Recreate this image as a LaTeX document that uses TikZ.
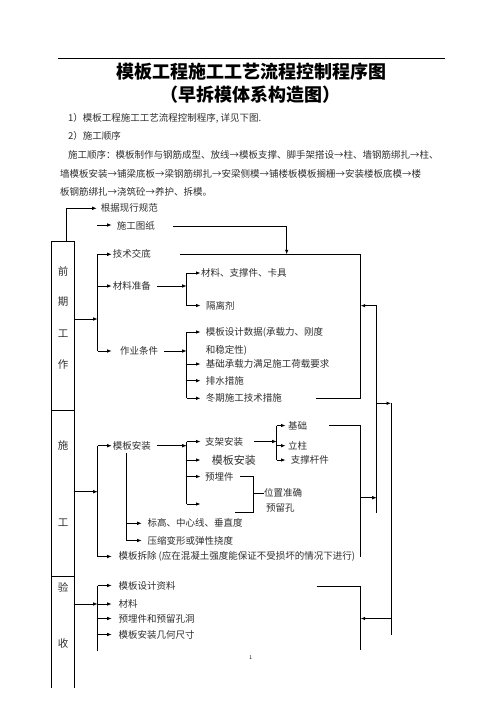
\documentclass[tikz,border=0pt]{standalone}
\usepackage{fontspec}
\setmainfont{Noto Sans CJK SC}
\usepackage{tikz}
\usetikzlibrary{arrows.meta,calc,positioning}
\XeTeXlinebreaklocale "zh"
\XeTeXlinebreakskip=0pt plus 2pt
\definecolor{ink}{HTML}{2E2E2E}

\begin{document}
\begin{tikzpicture}[x=1pt,y=-1pt,
    lbl/.style={anchor=west, inner sep=0pt, text=ink, font=\fontsize{9.5}{11}\selectfont},
    side/.style={inner sep=0pt, text=ink, font=\fontsize{10.5}{12}\selectfont},
    para/.style={anchor=west, inner sep=0pt, text=ink, font=\fontsize{9.5}{11}\selectfont},
    headline/.style={inner sep=0pt, font=\fontsize{18}{20}\selectfont\bfseries},
    arrow/.style={-{Latex[length=4.5pt,width=3.6pt]}, line width=0.8pt},
    wire/.style={line width=0.8pt}
  ]
  \useasboundingbox (0,0) rectangle (496,702);
  \draw[line width=0.8pt] (58,58) -- (445,58);
  \node[headline] (title) at (251,72) {模板工程施工工艺流程控制程序图};
  \node[headline] (subtitle) at (250,95) {（早拆模体系构造图）};
  \node[para] (intro1) at (68,118) {1）模板工程施工工艺流程控制程序,\ 详见下图.};
  \node[para] (intro2) at (68,136) {2）施工顺序};
  \node[para, text width=377pt, align=justify] (order1) at (68,155) {\noindent\parfillskip=0pt 施工顺序：模板制作与钢筋成型、放线→模板支撑、脚手架搭设→柱、墙钢筋绑扎→柱、};
  \node[para, text width=385pt, align=justify] (order2) at (60,173.5) {\noindent\parfillskip=0pt 墙模板安装→铺梁底板→梁钢筋绑扎→安梁侧模→铺楼板模板搁栅→安装楼板底模→楼};
  \node[para] (order3) at (60,192) {板钢筋绑扎→浇筑砼→养护、拆模。};

  % columns of the brackets
  \coordinate (b1) at (97.7,0);
  \coordinate (b4) at (126.7,0);
  \coordinate (b2) at (186.7,0);
  \coordinate (b3) at (276.7,0);
  \coordinate (k1) at (286.7,0);
  \coordinate (r1) at (360.7,0);
  \coordinate (r2) at (376.7,0);
  \coordinate (t1) at (111.7,0);
  \coordinate (t3) at (141.7,0);
  \coordinate (t2) at (200.5,0);
  \coordinate (t4) at (285.5,0);

  % stage column
  \draw[wire] (51.7,688) |- (74.3,241) -- (74.3,688);
  \draw[wire] (51.7,410.3) -- (74.3,410.3);
  \draw[wire] (51.7,576.7) -- (74.3,576.7);
  \node[side] (q1) at (63,271.7) {前};
  \node[side] (q2) at (63,301.7) {期};
  \node[side] (q3) at (63,333.3) {工};
  \node[side] (q4) at (63,365) {作};
  \node[side] (s1) at (63,445) {施};
  \node[side] (s2) at (63,523) {工};
  \node[side] (y1) at (63,587.5) {验};
  \node[side] (y2) at (63,643.3) {收};

  \node[lbl] (gjxg) at (100.7,208.3) {根据现行规范};
  \node[lbl] (sgtz) at (116.7,226) {施工图纸};
  \node[lbl] (jsjd) at (112.7,254.3) {技术交底};
  \node[lbl] (clzb) at (112.7,286) {材料准备};
  \node[lbl] (zytj) at (120,351) {作业条件};
  \node[lbl] (clzc) at (201,273) {材料、支撑件、卡具};
  \node[lbl] (glj) at (206,305.5) {隔离剂};
  \node[lbl] (mbsj) at (205.7,332) {模板设计数据(承载力、刚度};
  \node[lbl] (wdx) at (205.7,350) {和稳定性)};
  \node[lbl] (jccz) at (205.7,364) {基础承载力满足施工荷载要求};
  \node[lbl] (psc) at (205.7,380.7) {排水措施};
  \node[lbl] (dqsg) at (205.7,398.3) {冬期施工技术措施};

  \node[lbl] (mbaz) at (112.7,445.7) {模板安装};
  \node[lbl] (zjaz) at (205,441.5) {支架安装};
  \node[lbl, font=\fontsize{11}{12}\selectfont] (mbaz2) at (211.7,460) {模板安装};
  \node[lbl] (ymj) at (205,476.5) {预埋件};
  \coordinate (e1) at (200.5,504);
  \node[lbl] (jc) at (288,425.5) {基础};
  \node[lbl] (lz) at (288,445.7) {立柱};
  \node[lbl] (zcgj) at (290.7,460) {支撑杆件};
  \node[lbl] (wzzq) at (264,493.3) {位置准确};
  \node[lbl] (ylk) at (266,508) {预留孔};
  \node[lbl] (bg) at (147.3,523.3) {标高、中心线、垂直度};
  \node[lbl] (ysbx) at (147.3,540.5) {压缩变形或弹性挠度};
  \node[lbl] (mbcc) at (118.3,556.5) {模板拆除 (应在混凝土强度能保证不受损坏的情况下进行)};

  \node[lbl] (mbzl) at (118.3,585.5) {模板设计资料};
  \node[lbl] (cl) at (118.3,604) {材料};
  \node[lbl] (ymjk) at (118.3,618.5) {预埋件和预留孔洞};
  \node[lbl] (jhcc) at (118.3,634.5) {模板安装几何尺寸};
  \node[inner sep=0pt, font=\fontsize{5}{6}\selectfont] (pg) at (250.7,657.3) {1};

  % 前期工作
  \coordinate (btop) at (66.7,241);
  \draw[arrow] (btop) |- ([xshift=-4pt]gjxg.west);
  \draw[arrow] ([xshift=-19.4pt,yshift=1pt]sgtz.west) -- ([xshift=-5pt,yshift=1pt]sgtz.west);
  \draw[arrow] ([xshift=18pt]sgtz.east) -| (jsjd.west -| k1);
  \coordinate (f1) at (74.3,319);
  \draw[arrow] (f1) -- (f1 -| b1);
  \draw[wire] (jsjd.west -| b1) -- (zytj.west -| b1);
  \foreach \n in {jsjd,clzb,zytj}
    \draw[arrow] (\n.west -| b1) -- (\n.west -| t1);
  \draw[arrow] ([xshift=6pt]clzb.east) -- (clzb.east -| b2);
  \draw[wire] (clzc.west -| b2) -- (glj.west -| b2);
  \foreach \n in {clzc,glj}
    \draw[arrow] (\n.west -| b2) -- (\n.west -| t2);
  \draw[arrow] ([xshift=5.6pt]zytj.east) -- (zytj.east -| b2);
  \draw[wire] (mbsj.west -| b2) -- (dqsg.west -| b2);
  \foreach \n in {mbsj,jccz,psc,dqsg}
    \draw[arrow] (\n.west -| b2) -- (\n.west -| t2);
  \draw[wire] ([xshift=29pt]jsjd.east) -| (dqsg.east -| r1) -- ([xshift=34pt]dqsg.east);

  % 施工
  \coordinate (f2) at (74.3,491.7);
  \draw[arrow] (f2) -- (f2 -| b1);
  \draw[wire] (mbaz.west -| b1) -- (mbcc.west -| b1);
  \foreach \n in {mbaz,mbcc}
    \draw[arrow] (\n.west -| b1) -- (\n.west -| t1);
  \coordinate (v1) at (126.7,453.3);
  \draw[wire] (v1) -- (ysbx.west -| v1);
  \foreach \n in {bg,ysbx}
    \draw[arrow] (\n.west -| v1) -- (\n.west -| t3);
  \draw[arrow] ([xshift=6pt]mbaz.east) -- (mbaz.east -| b2);
  \draw[wire] (zjaz.west -| b2) -- (e1 -| b2);
  \foreach \n in {zjaz,mbaz2,ymj}
    \draw[arrow] (\n.west -| b2) -- (\n.west -| t2);
  \draw[arrow] (e1 -| b2) -- (e1);
  \draw[arrow] ([xshift=11pt]zjaz.east) -- (zjaz.east -| b3);
  \draw[wire] (jc.west -| b3) -- (zcgj.west -| b3);
  \foreach \n in {jc,lz,zcgj}
    \draw[arrow] (\n.west -| b3) -- (\n.west -| t4);
  \coordinate (yb) at (253,512);
  \coordinate (ye) at (235,512);
  \draw[wire] ([xshift=6pt]ymj.east) -| (yb) -- (ye);
  \draw[wire] (wzzq.west -| yb) -- (wzzq.west);
  \draw[wire] ([xshift=22pt]jc.east) -| (mbcc.west -| r1);
  \coordinate (f3) at (360.7,497.7);
  \draw[arrow] (f3) -- (f3 -| r2);

  % 验收
  \coordinate (f4) at (74.3,604);
  \draw[arrow] (f4) -- (f4 -| b1);
  \coordinate (ve) at (97.7,650.5);
  \draw[wire] (mbzl.west -| b1) -- (ve);
  \foreach \n in {mbzl,cl,ymjk,jhcc}
    \draw[arrow] (\n.west -| b1) -- (\n.west -| t1);
  \coordinate (w1) at (316.7,586.5);
  \coordinate (we) at (360.7,650);
  \draw[wire] (w1) -| (we);

  % feedback lines
  \coordinate (m1) at (376.7,305.7);
  \coordinate (m2) at (376.7,513.3);
  \draw[wire] (m1) -- (m2);
  \draw[arrow] (m1) -- (m1 -| r1);
  \coordinate (n1) at (391,403.3);
  \coordinate (n2) at (391,635);
  \coordinate (n3) at (391,618.5);
  \draw[wire] (n1) -- (n2);
  \draw[arrow] (n1 -| r2) -- (n1);
  \draw[arrow] (n3) -- (n3 -| r1);
\end{tikzpicture}
\end{document}
